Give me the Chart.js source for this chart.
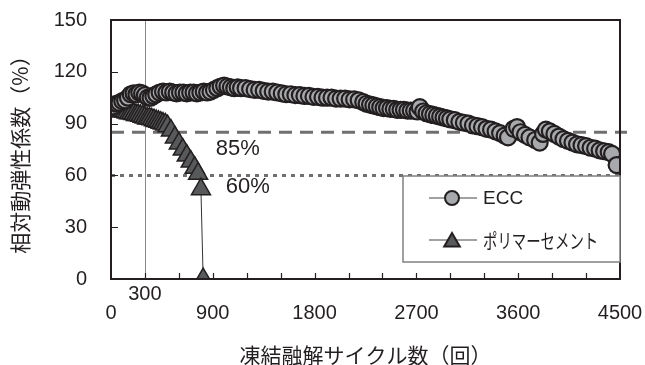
<!DOCTYPE html>
<html>
<head>
<meta charset="utf-8">
<script src="https://cdn.jsdelivr.net/npm/chart.js@4/dist/chart.umd.min.js"></script>
<style>
  html, body { margin: 0; padding: 0; background: #fff; }
  #wrap { width: 645px; height: 365px; }
</style>
</head>
<body>
<div id="wrap"><canvas id="c" width="645" height="365"></canvas></div>
<script>
// ECC: freeze-thaw cycles and relative dynamic modulus (%)
const eccCycles = [0, 25, 50, 75, 100, 125, 150, 175, 200, 225, 250, 275, 300, 325, 350, 375, 400, 430, 460, 490,
  520, 550, 580, 610, 640, 670, 700, 730, 760, 790, 820, 850, 880, 910, 940, 970, 1000, 1030, 1060, 1090,
  1120, 1150, 1190, 1230, 1270, 1310, 1350, 1390, 1430, 1470, 1510, 1550, 1590, 1630, 1670, 1710, 1750, 1790, 1830, 1870,
  1910, 1950, 1990, 2030, 2070, 2110, 2150, 2190, 2230, 2260, 2290, 2320, 2350, 2380, 2410, 2440, 2470, 2500, 2530, 2560,
  2590, 2620, 2650, 2680, 2710, 2730, 2760, 2790, 2820, 2850, 2880, 2910, 2940, 2970, 3000, 3040, 3080, 3120, 3160, 3200,
  3240, 3280, 3320, 3360, 3400, 3440, 3480, 3510, 3560, 3590, 3620, 3660, 3700, 3750, 3790, 3820, 3845, 3880, 3920, 3960,
  4000, 4040, 4080, 4120, 4160, 4200, 4240, 4280, 4320, 4360, 4400, 4430, 4470];
const eccValues = [101, 100, 101.5, 102, 103, 103.5, 105, 107, 107.5, 107, 108, 107.5, 106.5, 105, 105, 106, 107, 108, 108.5, 108,
  108.5, 108, 107.5, 108, 108, 107.5, 108, 108, 107.5, 108, 108.5, 108, 108.5, 109.5, 110.5, 111.5, 112, 111.5, 111, 110.5,
  111, 110.5, 110.5, 110, 109.5, 109.5, 109, 108.5, 108.5, 108, 107.5, 107, 107, 106.5, 106.5, 106, 106, 105.5, 105.5, 105,
  105, 105, 104.5, 104.5, 104.5, 104, 104, 103.5, 102.5, 101.5, 101, 100.5, 100, 99.5, 99, 99, 98.5, 98.5, 98, 98,
  98, 97.5, 97.5, 97.5, 97, 99.5, 97, 96, 95.5, 95, 94.5, 94, 93.5, 93, 92.5, 92, 91, 90.5, 90, 89,
  88.5, 88, 87, 86.5, 85.5, 84.5, 83, 82, 87, 88, 85, 83.5, 82, 80.5, 79, 84, 86.5, 85.5, 84, 82.5,
  81, 80, 79, 78, 77.5, 77, 76, 75.5, 74.5, 74, 73.5, 72.5, 66];

// Polymer cement mortar
const pcCycles = [0, 20, 40, 60, 80, 100, 120, 140, 160, 180, 200, 220, 240, 260, 280, 300, 320, 340, 360, 380,
  400, 420, 440, 460, 480, 500, 530, 565, 600, 635, 670, 705, 740, 770, 795, 815];
const pcValues = [98.5, 98, 98, 97.5, 97.5, 97, 97, 96.5, 96, 96, 95.5, 95, 95, 94.5, 94, 93.5, 93, 93, 92.5, 92,
  91.5, 91, 90.5, 90, 89.5, 88.5, 86, 82, 78.5, 75, 71.5, 68, 64.5, 61, 52, 0];

const seriesNames = ['ECC', 'ポリマーセメント'];
const xMax = 4500, xStep = 300, xLabelStep = 900;
const yMax = 150, yStep = 30;
const refLevels = [85, 60];
const refLabels = ['85%', '60%'];
const markCycle = 300;
const xTitle = '凍結融解サイクル数（回）';
const yTitle = '相対動弾性係数（%）';

const INK = '#231f20';
const NUM_FONT = '"Liberation Sans", Arial, sans-serif';
const JP_FONT = '"Noto Sans CJK JP", sans-serif';

const ecc = { fill: '#a7a9ac', stroke: INK, radius: 8, border: 2.2, style: 'circle' };
const pc = { fill: '#58595b', stroke: INK, radius: 11, border: 1.5, style: 'triangle' };

const toPoints = (xs, ys) => xs.map((v, i) => ({ x: v, y: ys[i] }));

// fixed axis box sizes, without the automatic label-overflow padding
const fixBox = (prop, size) => s => {
  s[prop] = size;
  s.paddingTop = 0; s.paddingBottom = 0; s.paddingLeft = 0; s.paddingRight = 0;
};

const decor = {
  id: 'decor',
  beforeDatasetsDraw(chart) {
    const { ctx, chartArea: a, scales: { x, y } } = chart;
    ctx.save();
    // 300-cycle marker line
    const xm = Math.round(x.getPixelForValue(markCycle)) + 0.5;
    ctx.strokeStyle = '#8a8a8a';
    ctx.lineWidth = 1;
    ctx.beginPath(); ctx.moveTo(xm, a.top); ctx.lineTo(xm, a.bottom); ctx.stroke();
    // 85% dashed and 60% dotted reference lines
    ctx.strokeStyle = '#707070';
    ctx.lineWidth = 3;
    let yy = y.getPixelForValue(refLevels[0]);
    ctx.setLineDash([13, 8]);
    ctx.beginPath(); ctx.moveTo(a.left, yy); ctx.lineTo(a.right + 7, yy); ctx.stroke();
    yy = y.getPixelForValue(refLevels[1]);
    ctx.setLineDash([4, 5]);
    ctx.beginPath(); ctx.moveTo(a.left, yy); ctx.lineTo(a.right, yy); ctx.stroke();
    ctx.restore();
  },
  afterDatasetsDraw(chart) {
    const { ctx, chartArea: a, scales: { x, y } } = chart;
    ctx.save();
    // plot frame
    ctx.strokeStyle = INK;
    ctx.lineWidth = 2;
    ctx.strokeRect(a.left, a.top, a.right - a.left, a.bottom - a.top);
    // inward tick marks
    ctx.lineWidth = 1.2;
    ctx.beginPath();
    for (let v = xStep; v < xMax; v += xStep) {
      const px = Math.round(x.getPixelForValue(v)) + 0.5;
      ctx.moveTo(px, a.bottom); ctx.lineTo(px, a.bottom - 6);
    }
    for (let v = yStep; v < yMax; v += yStep) {
      const py = Math.round(y.getPixelForValue(v)) + 0.5;
      ctx.moveTo(a.left, py); ctx.lineTo(a.left + 7, py);
    }
    ctx.stroke();

    ctx.fillStyle = INK;
    ctx.textAlign = 'center';
    ctx.textBaseline = 'middle';
    // raised label for the 300-cycle line
    ctx.font = '20px ' + NUM_FONT;
    ctx.fillText(String(markCycle), x.getPixelForValue(markCycle), a.bottom + 15);
    // reference line labels
    ctx.font = '22px ' + NUM_FONT;
    ctx.fillText(refLabels[0], x.getPixelForValue(1120), y.getPixelForValue(refLevels[0]) + 17);
    ctx.fillText(refLabels[1], x.getPixelForValue(1210), y.getPixelForValue(refLevels[1]) + 12);

    // legend box
    const lx = 403, ly = 176, lw = 217, lh = 86;
    ctx.fillStyle = '#fff';
    ctx.fillRect(lx, ly, lw, lh);
    ctx.strokeStyle = '#808080';
    ctx.lineWidth = 1.5;
    ctx.strokeRect(lx, ly, lw, lh);
    const rows = [
      { y: ly + 22, m: ecc, r: 7 },
      { y: ly + 64, m: pc, r: 9 }
    ];
    rows.forEach((row, i) => {
      ctx.strokeStyle = '#444';
      ctx.lineWidth = 1;
      ctx.beginPath(); ctx.moveTo(lx + 26, row.y); ctx.lineTo(lx + 74, row.y); ctx.stroke();
      ctx.fillStyle = row.m.fill;
      ctx.strokeStyle = row.m.stroke;
      ctx.lineWidth = 2;
      Chart.helpers.drawPoint(ctx, { pointStyle: row.m.style, radius: row.r, borderWidth: 2, rotation: 0 },
        lx + 49, row.y + (i === 1 ? 2 : 0));
      ctx.fillStyle = INK;
      ctx.textAlign = 'left';
      if (i === 0) {
        ctx.font = '19px ' + NUM_FONT;
        ctx.fillText(seriesNames[0], lx + 80, row.y + 1);
      } else {
        ctx.save();
        ctx.translate(lx + 80, row.y + 1);
        ctx.scale(0.72, 1);
        ctx.font = '20px ' + JP_FONT;
        ctx.fillText(seriesNames[1], 0, 0);
        ctx.restore();
      }
    });

    // axis titles
    ctx.fillStyle = INK;
    ctx.textAlign = 'center';
    ctx.textBaseline = 'middle';
    ctx.font = '21px ' + JP_FONT;
    ctx.fillText(xTitle, (a.left + a.right) / 2, 355);
    ctx.translate(20, (a.top + a.bottom) / 2);
    ctx.rotate(-Math.PI / 2);
    ctx.fillText(yTitle, 0, 0);
    ctx.restore();
  }
};

new Chart(document.getElementById('c'), {
  type: 'line',
  data: {
    datasets: [
      {
        label: seriesNames[0],
        data: toPoints(eccCycles, eccValues),
        borderColor: '#333', borderWidth: 1,
        pointStyle: ecc.style, pointRadius: ecc.radius, pointBorderWidth: ecc.border,
        pointBackgroundColor: ecc.fill, pointBorderColor: ecc.stroke,
        tension: 0, order: 0
      },
      {
        label: seriesNames[1],
        data: toPoints(pcCycles, pcValues),
        borderColor: '#333', borderWidth: 1,
        pointStyle: pc.style, pointRadius: pc.radius, pointBorderWidth: pc.border,
        pointBackgroundColor: pc.fill, pointBorderColor: pc.stroke,
        tension: 0, order: 1
      }
    ]
  },
  options: {
    responsive: false,
    animation: false,
    devicePixelRatio: 1,
    layout: { padding: { top: 20, right: 25, left: 0, bottom: 0 } },
    plugins: { legend: { display: false }, tooltip: { enabled: false } },
    scales: {
      x: {
        type: 'linear', min: 0, max: xMax,
        grid: { display: false, drawTicks: false },
        border: { display: false },
        ticks: {
          stepSize: xStep, autoSkip: false, maxRotation: 0, padding: 22,
          color: INK, font: { size: 20, family: NUM_FONT },
          callback: v => (v % xLabelStep === 0 ? String(v) : '')
        },
        afterFit: fixBox('height', 86)
      },
      y: {
        type: 'linear', min: 0, max: yMax,
        grid: { display: false, drawTicks: false },
        border: { display: false },
        ticks: {
          stepSize: yStep, padding: 24,
          color: INK, font: { size: 20, family: NUM_FONT }
        },
        afterFit: fixBox('width', 111)
      }
    }
  },
  plugins: [decor]
});
</script>
</body>
</html>
